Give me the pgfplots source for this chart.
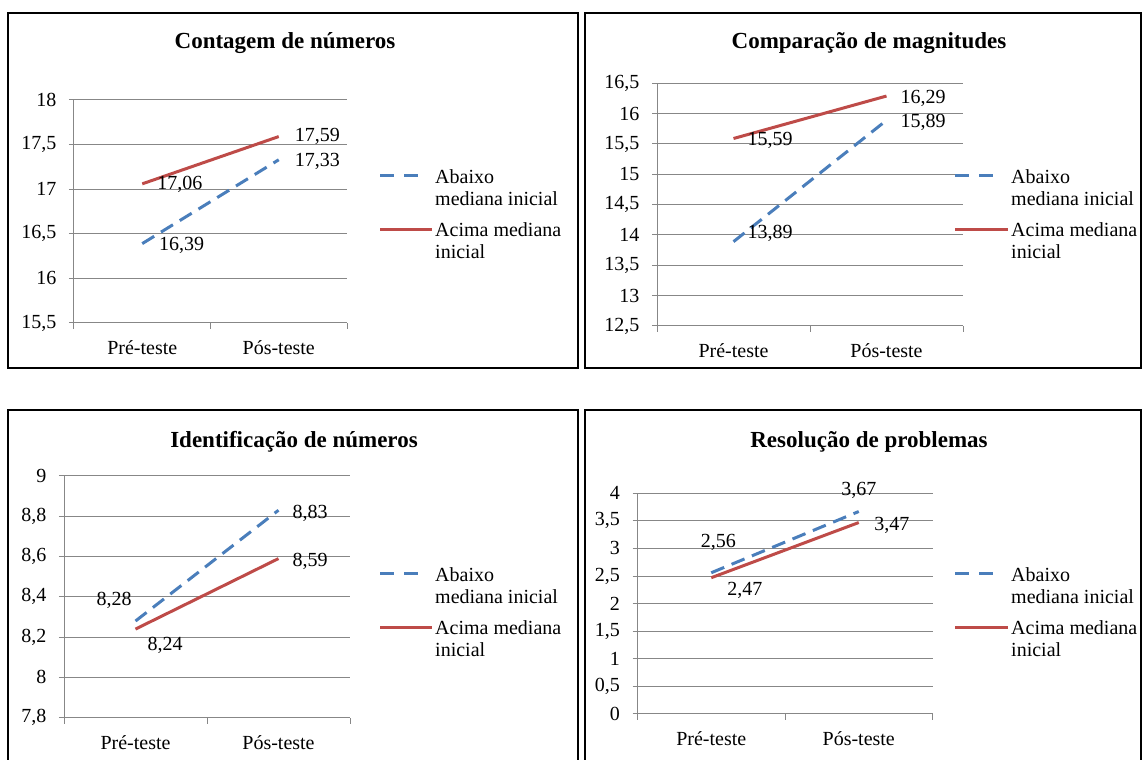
\documentclass[border=0pt]{standalone}
\usepackage{pgfplots}
\pgfplotsset{compat=1.18}
\usepackage{fontspec}
\setmainfont{Liberation Serif}

\definecolor{abaixo}{HTML}{4A7EBB}
\definecolor{acima}{HTML}{BE4B48}
\definecolor{grade}{HTML}{878787}

\newcommand\rotulo{\fontsize{20}{24}\selectfont}
\newcommand\titulo{\fontsize{23}{27}\selectfont\bfseries}

\pgfplotsset{
  painel/.style={
    scale only axis, anchor=south west,
    xmin=0, xmax=2,
    axis x line*=bottom, axis y line*=left,
    axis line style={grade, line width=1pt},
    ymajorgrids, grid style={grade, line width=1pt},
    xtick={0.5,1.5}, xticklabels={Pré-teste,Pós-teste},
    minor xtick={0,1,2},
    major x tick style={draw=none},
    minor x tick style={grade, line width=1pt},
    ytick style={grade, line width=1pt},
    tick align=outside,
    major tick length=5pt, minor tick length=6pt,
    ticklabel style={font=\rotulo, text=black},
    yticklabel style={xshift=-9pt},
    xticklabel style={yshift=-9pt},
    /pgf/number format/use comma,
    /pgf/number format/assume math mode=true,
    clip=false,
    point meta=y,
    visualization depends on={value \thisrow{dx}\as\dx},
    visualization depends on={value \thisrow{dy}\as\dy},
    nodes near coords={\pgfmathprintnumber[fixed,fixed zerofill,precision=2,use comma]{\pgfplotspointmeta}},
    every node near coord/.append style={font=\rotulo, text=black, anchor=center,
      xshift=\dx pt, yshift=\dy pt, inner sep=0pt},
  },
  serieabaixo/.style={abaixo, line width=3pt, dash pattern=on 14pt off 8pt, mark=none},
  serieacima/.style={acima, line width=3pt, mark=none},
}

\begin{document}
\begin{tikzpicture}[x=1pt, y=1pt]
\useasboundingbox (0,0) rectangle (1143,760);

% molduras
\draw[line width=2.5pt] (8,392) rectangle (578,747);
\draw[line width=2.5pt] (585,392) rectangle (1141,747);
\draw[line width=2.5pt] (8,-20) -- (8,350) -- (578,350) -- (578,-20);
\draw[line width=2.5pt] (585,-20) -- (585,350) -- (1141,350) -- (1141,-20);

% Contagem de numeros
\node[font=\titulo] at (285,717) {Contagem de números};
\begin{axis}[painel, at={(74pt,437pt)}, width=273pt, height=223pt,
  ymin=15.5, ymax=18, ytick={15.5,16,16.5,17,17.5,18}]
\addplot[serieabaixo] table {
x y dx dy
0.5 16.39 39.5 -1.5
1.5 17.33 38.5 -2
};
\addplot[serieacima] table {
x y dx dy
0.5 17.06 37.5 -1
1.5 17.59 38.5 0
};
\end{axis}

% Comparacao de magnitudes
\node[font=\titulo] at (869,717) {Comparação de magnitudes};
\begin{axis}[painel, at={(657pt,434pt)}, width=306pt, height=242.7pt,
  ymin=12.5, ymax=16.5, ytick={12.5,13,13.5,14,14.5,15,15.5,16,16.5}]
\addplot[serieabaixo] table {
x y dx dy
0.5 13.89 36.5 8.7
1.5 15.89 36.5 -2
};
\addplot[serieacima] table {
x y dx dy
0.5 15.59 36.5 -1.5
1.5 16.29 36.5 -2
};
\end{axis}

% Identificacao de numeros
\node[font=\titulo] at (294,318) {Identificação de números};
\begin{axis}[painel, at={(64pt,42.3pt)}, width=286pt, height=241.7pt,
  ymin=7.8, ymax=9, ytick={7.8,8,8.2,8.4,8.6,8.8,9}]
\addplot[serieabaixo] table {
x y dx dy
0.5 8.28 -21.5 21
1.5 8.83 31.5 -3
};
\addplot[serieacima] table {
x y dx dy
0.5 8.24 29.5 -16
1.5 8.59 31.5 -3
};
\end{axis}

% Resolucao de problemas
\node[font=\titulo] at (869,318) {Resolução de problemas};
\begin{axis}[painel, at={(637.5pt,46pt)}, width=295pt, height=220.7pt,
  ymin=0, ymax=4, ytick={0,0.5,1,1.5,2,2.5,3,3.5,4}]
\addplot[serieabaixo] table {
x y dx dy
0.5 2.56 7 30
1.5 3.67 0 21.5
};
\addplot[serieacima] table {
x y dx dy
0.5 2.47 33.5 -12.3
1.5 3.47 33 -2.5
};
\end{axis}

% legendas
\foreach \lx/\tx/\by in {380/435/583, 955/1011/583, 380/435/185, 955/1011/185}{
  \draw[abaixo, line width=3pt, dash pattern=on 14pt off 10pt] (\lx,\by+1) -- (\lx+38,\by+1);
  \draw[acima, line width=3pt] (\lx,\by-53) -- (\tx-3,\by-53);
  \node[font=\rotulo, anchor=west, inner sep=0pt] at (\tx,\by) {Abaixo};
  \node[font=\rotulo, anchor=west, inner sep=0pt] at (\tx,\by-22) {mediana inicial};
  \node[font=\rotulo, anchor=west, inner sep=0pt] at (\tx,\by-53) {Acima mediana};
  \node[font=\rotulo, anchor=west, inner sep=0pt] at (\tx,\by-75) {inicial};
}
\end{tikzpicture}
\end{document}
